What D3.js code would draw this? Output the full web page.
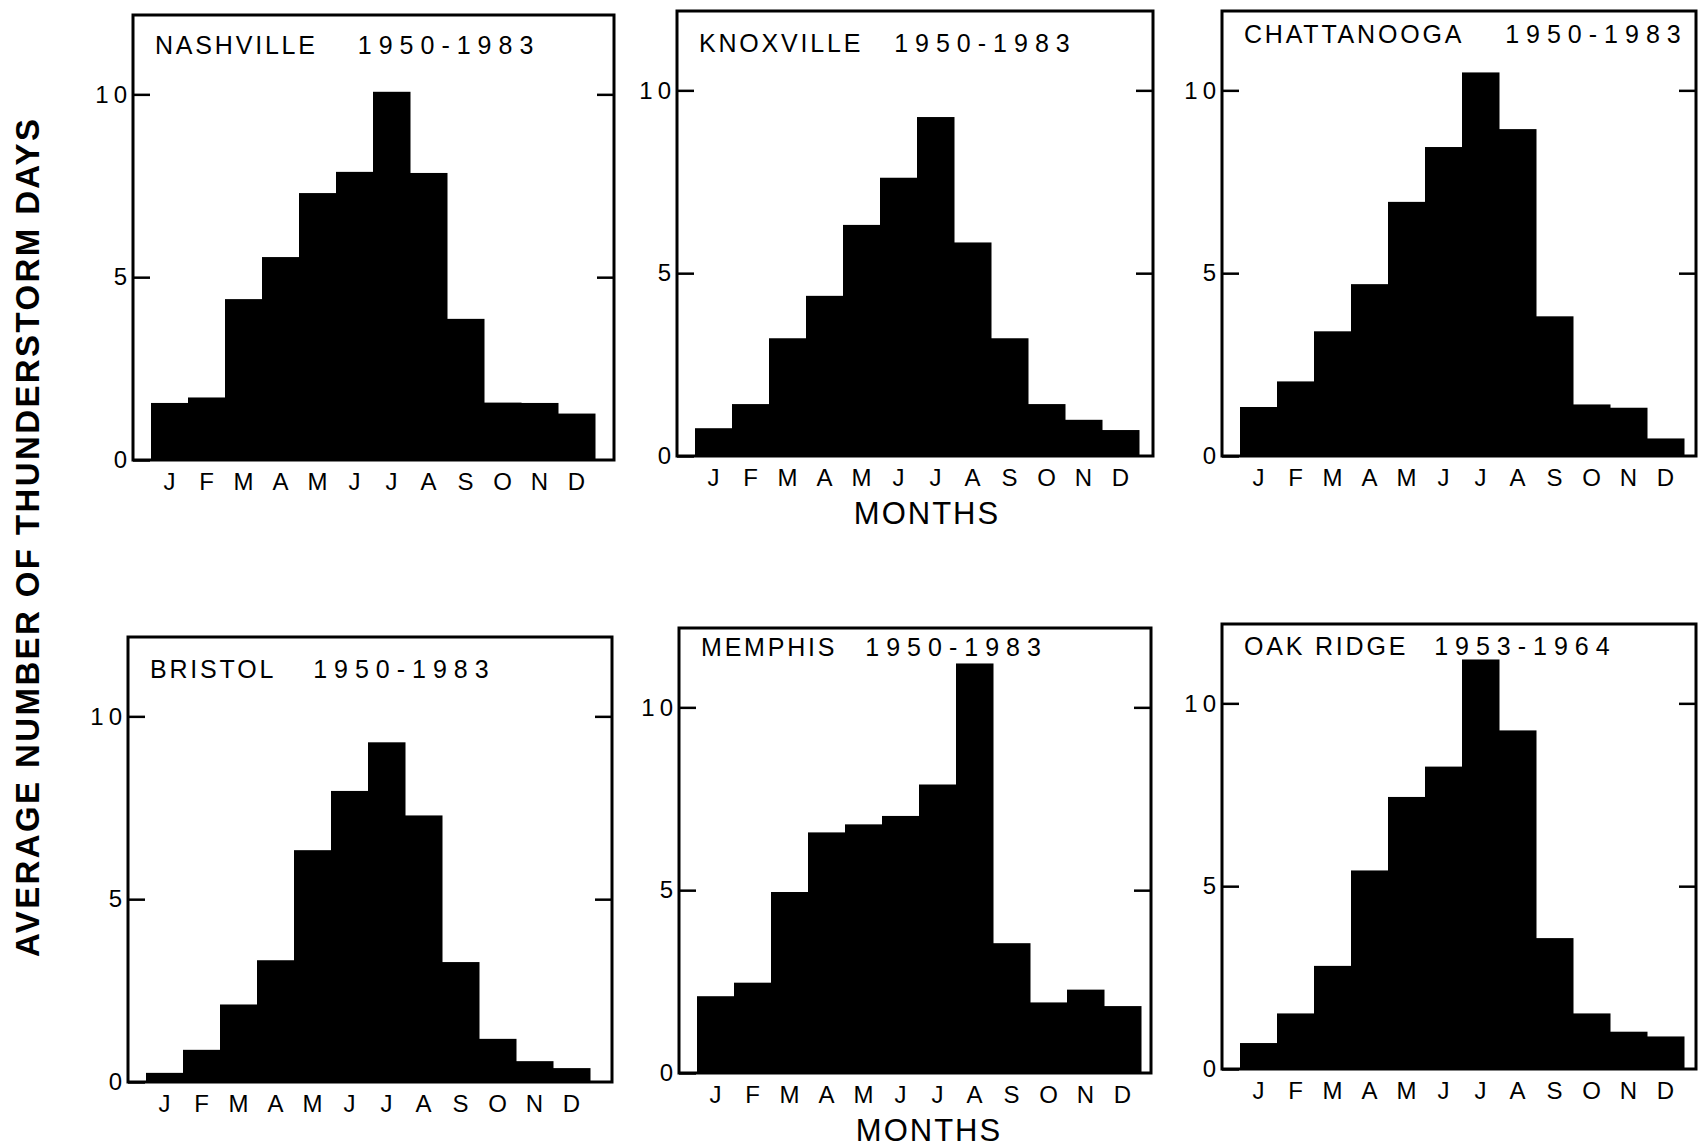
<!DOCTYPE html>
<html lang="en">
  <head>
    <meta charset="utf-8">
    <title>Average number of thunderstorm days - Tennessee</title>
    <script src="https://d3js.org/d3.v7.min.js"></script>
    <style>
      body { margin: 0; background: #fff; }
      text { font-family: 'Liberation Sans', Arial, sans-serif; fill: #000; }
    </style>
  </head>
  <body>
    <div id="container"></div>
    <script>
      // Data
      const months = ['J', 'F', 'M', 'A', 'M', 'J', 'J', 'A', 'S', 'O', 'N', 'D']
      const cities = ['NASHVILLE', 'KNOXVILLE', 'CHATTANOOGA', 'BRISTOL', 'MEMPHIS', 'OAK RIDGE']
      const periods = ['1950-1983', '1950-1983', '1950-1983', '1950-1983', '1950-1983', '1953-1964']
      const nashville = [1.56, 1.71, 4.40, 5.55, 7.30, 7.88, 10.07, 7.85, 3.86, 1.57, 1.56, 1.27]
      const knoxville = [0.76, 1.42, 3.22, 4.38, 6.32, 7.61, 9.27, 5.84, 3.22, 1.42, 0.99, 0.71]
      const chattanooga = [1.34, 2.04, 3.41, 4.70, 6.95, 8.45, 10.49, 8.94, 3.82, 1.41, 1.32, 0.48]
      const bristol = [0.25, 0.88, 2.12, 3.33, 6.34, 7.96, 9.29, 7.29, 3.28, 1.18, 0.57, 0.38]
      const memphis = [2.10, 2.47, 4.95, 6.58, 6.80, 7.03, 7.89, 11.20, 3.55, 1.93, 2.28, 1.83]
      const oakRidge = [0.71, 1.52, 2.82, 5.43, 7.44, 8.27, 11.20, 9.26, 3.58, 1.52, 1.02, 0.89]
      const series = [nashville, knoxville, chattanooga, bristol, memphis, oakRidge]
      const yTicks = [0, 5, 10]
      const yLabel = 'AVERAGE NUMBER OF THUNDERSTORM DAYS'
      const xLabel = 'MONTHS'

      const W = 1698, H = 1147
      const frameH = 445
      // frame position of each panel, title baseline offset and gap before the years
      const layout = [
        { x: 133, y: 15, w: 481, t: 39, gap: 40 },
        { x: 677, y: 11, w: 476, t: 41, gap: 31 },
        { x: 1222, y: 11, w: 474, t: 32, gap: 41 },
        { x: 128, y: 637, w: 484, t: 41, gap: 37 },
        { x: 679, y: 628, w: 472, t: 28, gap: 28 },
        { x: 1222, y: 624, w: 474, t: 31, gap: 26 }
      ]

      const svg = d3.select('#container').append('svg')
        .attr('width', W)
        .attr('height', H)

      const y = d3.scaleLinear().domain([0, 12.17]).range([frameH, 0])

      series.forEach((vals, i) => {
        const p = layout[i]
        const g = svg.append('g').attr('transform', `translate(${p.x},${p.y})`)
        const x = d3.scaleBand()
          .domain(d3.range(months.length))
          .range([18, 18 + 444])
          .padding(0)

        // bars
        g.selectAll('rect.bar')
          .data(vals).enter()
          .append('rect')
          .attr('class', 'bar')
          .attr('x', (d, j) => x(j))
          .attr('y', d => y(d))
          .attr('width', x.bandwidth() + 0.5)
          .attr('height', d => frameH - y(d))
          .attr('fill', '#000')

        // frame
        g.append('rect')
          .attr('width', p.w)
          .attr('height', frameH)
          .attr('fill', 'none')
          .attr('stroke', '#000')
          .attr('stroke-width', 3)

        // left axis, ticks pointing in
        const left = g.append('g')
          .call(d3.axisLeft(y).tickValues(yTicks).tickSizeInner(-17).tickSizeOuter(0).tickPadding(1))
        left.select('.domain').remove()
        left.selectAll('line').attr('stroke', '#000').attr('stroke-width', 2.5)
        left.selectAll('text')
          .attr('font-size', 24)
          .attr('letter-spacing', 5)
          .attr('font-family', "'Liberation Sans', Arial, sans-serif")

        // right axis, ticks pointing in, no labels
        const right = g.append('g')
          .attr('transform', `translate(${p.w},0)`)
          .call(d3.axisRight(y).tickValues([5, 10]).tickSizeInner(-17).tickSizeOuter(0).tickFormat(''))
        right.select('.domain').remove()
        right.selectAll('line').attr('stroke', '#000').attr('stroke-width', 2.5)

        // month labels
        const bottom = g.append('g')
          .attr('transform', `translate(0,${frameH})`)
          .call(d3.axisBottom(x).tickSize(0).tickPadding(13).tickFormat(j => months[j]))
        bottom.select('.domain').remove()
        bottom.selectAll('text')
          .attr('font-size', 24)
          .attr('font-family', "'Liberation Sans', Arial, sans-serif")

        // title: city name then period
        const name = g.append('text')
          .attr('x', 22)
          .attr('y', p.t)
          .attr('font-size', 25)
          .attr('letter-spacing', 2.8)
          .text(cities[i])
        const nameW = name.node().getComputedTextLength()
        g.append('text')
          .attr('x', 22 + nameW + p.gap)
          .attr('y', p.t)
          .attr('font-size', 25)
          .attr('letter-spacing', 7)
          .text(periods[i])
      })

      // MONTHS under the middle column
      ;[1, 4].forEach(i => {
        const p = layout[i]
        svg.append('text')
          .attr('x', p.x + 18 + 232)
          .attr('y', p.y + frameH + 68)
          .attr('text-anchor', 'middle')
          .attr('font-size', 31)
          .attr('letter-spacing', 2)
          .text(xLabel)
      })

      // shared y label
      svg.append('text')
        .attr('transform', 'translate(39,538) rotate(-90)')
        .attr('text-anchor', 'middle')
        .attr('font-size', 33)
        .attr('font-weight', 'bold')
        .attr('textLength', 838)
        .attr('lengthAdjust', 'spacing')
        .text(yLabel)
    </script>
  </body>
</html>
